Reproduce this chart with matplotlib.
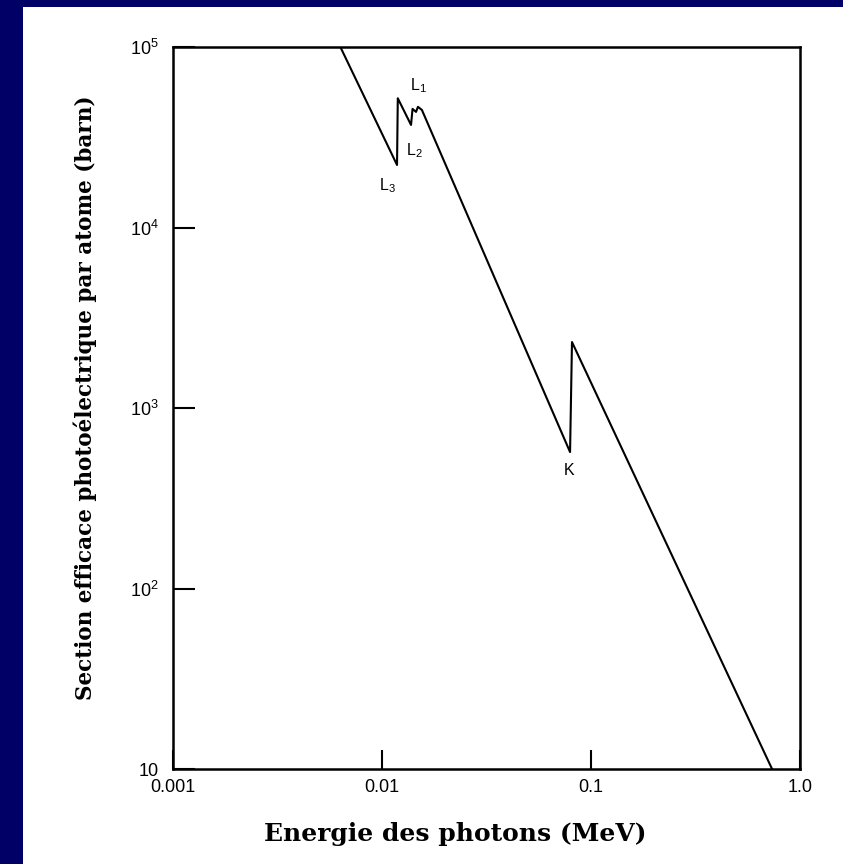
import numpy as np
import matplotlib.pyplot as plt
from matplotlib.patches import Rectangle

plt.rcParams['mathtext.fontset'] = 'custom'
plt.rcParams['mathtext.rm'] = 'Liberation Sans'
plt.rcParams['font.family'] = 'Liberation Sans'

# photoelectric cross-section (MeV, barn)
energy = [0.0061, 0.0118, 0.0119, 0.01377, 0.0140, 0.01455, 0.01486, 0.01552,
          0.0794, 0.0811, 0.735]
sigma = [1.09e5, 2.22e4, 5.2e4, 3.70e4, 4.54e4, 4.37e4, 4.66e4, 4.48e4,
         570, 2320, 10]

# absorption edge labels
edge_text = [r'$\mathregular{L_1}$', r'$\mathregular{L_2}$', r'$\mathregular{L_3}$', 'K']
edge_e = [0.0150, 0.01425, 0.01060, 0.0785]
edge_s = [6.1e4, 2.68e4, 1.70e4, 448]

xticks = [0.001, 0.01, 0.1, 1.0]
xticklabels = ['0.001', '0.01', '0.1', '1.0']
yticks = [10, 1e2, 1e3, 1e4, 1e5]
yticklabels = ['10', r'$\mathregular{10^2}$', r'$\mathregular{10^3}$',
               r'$\mathregular{10^4}$', r'$\mathregular{10^5}$']

fig = plt.figure(figsize=(8.43, 8.64), dpi=100)
fig.patch.set_facecolor('#000066')
# white slide panel behind everything
fig.patches.append(Rectangle((23/843, 0), 1 - 23/843, 1 - 7/864,
                             transform=fig.transFigure, facecolor='white',
                             edgecolor='none', zorder=-10))

ax = fig.add_axes([173/843, 1 - 769/864, (800 - 173)/843, (769 - 47)/864])
ax.set_facecolor('none')
ax.plot(energy, sigma, color='black', linewidth=1.5)
ax.set_xscale('log')
ax.set_yscale('log')
ax.set_xlim(0.001, 1.0)
ax.set_ylim(10, 1e5)

for t, e, s in zip(edge_text, edge_e, edge_s):
    ax.text(e, s, t, fontsize=11.5, ha='center', va='center')

ax.set_xticks(xticks)
ax.set_xticklabels(xticklabels)
ax.set_yticks(yticks)
ax.set_yticklabels(yticklabels)
ax.minorticks_off()
ax.tick_params(axis='x', direction='in', length=14, width=1.5, labelsize=13, pad=7)
ax.tick_params(axis='y', direction='in', length=16, width=1.5, labelsize=13, pad=10)
for sp in ax.spines.values():
    sp.set_linewidth(1.8)

ax.set_xlabel('Energie des photons (MeV)', family='DejaVu Serif',
              fontweight='bold', fontsize=18)
ax.xaxis.set_label_coords(0.45, -0.074)
ax.set_ylabel('Section efficace photoélectrique par atome (barn)',
              family='DejaVu Serif', fontweight='bold', fontsize=15.5)
ax.yaxis.set_label_coords(-0.121, 0.514)

fig.savefig('out.png', dpi=100, facecolor=fig.get_facecolor())
